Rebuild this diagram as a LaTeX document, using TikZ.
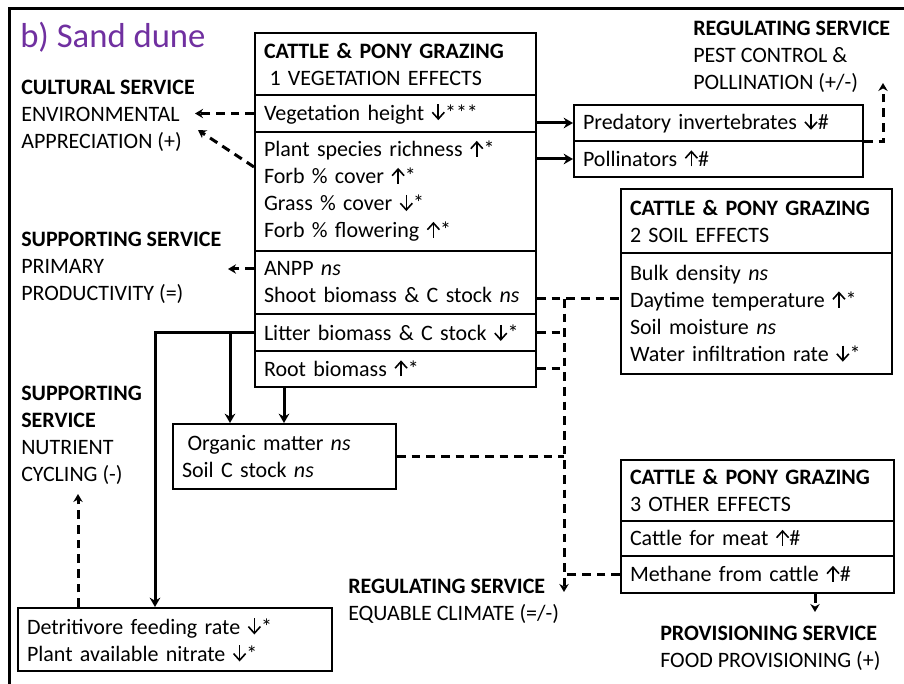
\documentclass[tikz,border=0pt]{standalone}
\usepackage{fontspec}
\setmainfont{Carlito}
\usetikzlibrary{arrows.meta}
\definecolor{titlepurple}{RGB}{112,48,160}
\newcommand\bodyfont{\fontsize{16.5}{20.25}\selectfont}
% open-headed trend arrows drawn inline with the text
\newcommand\upar{\tikz[baseline=0pt,x=1pt,y=1pt,line width=1.2pt,line cap=butt,line join=miter]{%
  \draw (5.5,0) -- (5.5,11.2); \draw (1,6.2) -- (5.5,11.2) -- (10,6.2);}}
\newcommand\dnar{\tikz[baseline=0pt,x=1pt,y=1pt,line width=1.2pt,line cap=butt,line join=miter]{%
  \draw (5.5,12) -- (5.5,0.8); \draw (1,5.8) -- (5.5,0.8) -- (10,5.8);}}

\tikzset{
  cell/.style 2 args={draw, line width=1.5pt, anchor=north west,
    inner xsep=6.75pt, inner ysep=0pt,
    minimum width=#1*0.75pt, minimum height=#2*0.75pt,
    /utils/exec={\pgfmathsetlengthmacro\cellw{#1*0.75pt-13.5pt}},
    text width=\cellw, align=left, font=\bodyfont},
  svc/.style={anchor=west, inner sep=0pt, align=left, font=\bodyfont},
  solidarrow/.style={line width=2.25pt, -{Stealth[length=7pt,width=8pt]}},
  dashline/.style={line width=2.25pt, dash pattern=on 6.5pt off 4.5pt},
  dasharrow/.style={dashline, -{Stealth[length=6pt,width=7pt]}}
}

\begin{document}
\begin{tikzpicture}[x=0.75pt,y=-0.75pt]
\useasboundingbox (0,0) rectangle (904,684);

% outer frame
\draw[line width=2.25pt] (9,684) -- (9,9) -- (904,9);

% title
\node[anchor=west, inner sep=0pt, font=\fontsize{26}{30}\selectfont, text=titlepurple] (title) at (20,37) {b) Sand dune};

% vegetation effects box
\node[cell={281}{62}] (vhead) at (254,32) {\textbf{CATTLE \& PONY GRAZING}\\\hspace{0.25em}1 VEGETATION EFFECTS};
\node[cell={281}{37}] (vheight) at (254,94) {Vegetation height \dnar***};
\node[cell={281}{119}] (vplant) at (254,131) {Plant species richness \upar*\\Forb \% cover \upar*\\Grass \% cover \dnar*\\Forb \% flowering \upar*};
\node[cell={281}{63}] (vanpp) at (254,250) {ANPP \textit{ns}\\Shoot biomass \& C stock \textit{ns}};
\node[cell={281}{37}] (vlitter) at (254,313) {Litter biomass \& C stock \dnar*};
\node[cell={281}{36}] (vroot) at (254,350) {Root biomass \upar*};

% invertebrates
\node[cell={289}{36}] (pred) at (573,104) {Predatory invertebrates \dnar\#};
\node[cell={289}{36}] (poll) at (573,140) {Pollinators \upar\#};

% soil effects box
\node[cell={271}{64}] (shead) at (620,188) {\textbf{CATTLE \& PONY GRAZING}\\2 SOIL EFFECTS};
\node[cell={271}{121}] (srows) at (620,252) {Bulk density \textit{ns}\\Daytime temperature \upar*\\Soil moisture \textit{ns}\\Water infiltration rate \dnar*};

% other effects box
\node[cell={273}{61}] (ohead) at (620,459) {\textbf{CATTLE \& PONY GRAZING}\\3 OTHER EFFECTS};
\node[cell={273}{35}] (ocattle) at (620,520) {Cattle for meat \upar\#};
\node[cell={273}{37}] (ometh) at (620,555) {Methane from cattle \upar\#};

% soil carbon and nutrient boxes
\node[cell={223}{65}] (org) at (172,423) {\hspace{0.25em}Organic matter \textit{ns}\\Soil C stock \textit{ns}};
\node[cell={314}{63}] (detr) at (17,607) {Detritivore feeding rate \dnar*\\Plant available nitrate \dnar*};

% ecosystem services
\node[svc] (cult) at (21,116) {\textbf{CULTURAL SERVICE}\\ENVIRONMENTAL\\APPRECIATION (+)};
\node[svc] (pest) at (693,57) {\textbf{REGULATING SERVICE}\\PEST CONTROL \&\\POLLINATION (+/-)};
\node[svc] (prim) at (21,268) {\textbf{SUPPORTING SERVICE}\\PRIMARY\\PRODUCTIVITY (=)};
\node[svc] (nutr) at (21,435.5) {\textbf{SUPPORTING}\\\textbf{SERVICE}\\NUTRIENT\\CYCLING (-)};
\node[svc] (clim) at (348,601) {\textbf{REGULATING SERVICE}\\EQUABLE CLIMATE (=/-)};
\node[svc] (food) at (660,648.5) {\textbf{PROVISIONING SERVICE}\\FOOD PROVISIONING (+)};

% connector ends and bends
\coordinate (culttipA) at (195,112);
\coordinate (culttipB) at (198,130);
\coordinate (primtip) at (228,269);
\coordinate (pesttip) at (883,83);
\coordinate (litbend) at (155,0);
\coordinate (orgdropA) at (230,0);
\coordinate (orgdropB) at (284,0);
\coordinate (trunktop) at (564,299);
\coordinate (climtip) at (564,592);
\coordinate (foodtip) at (815,612);
\coordinate (nutrtip) at (78,494);

% solid effects
\draw[solidarrow] (vheight.east |- pred.west) -- (pred.west);
\draw[solidarrow] (vplant.east |- poll.west) -- (poll.west);
\draw[solidarrow] (vlitter.west) -| (litbend |- detr.north);
\draw[solidarrow] (vlitter.west -| orgdropA) -- (orgdropA |- org.north);
\draw[solidarrow] (vroot.south -| orgdropB) -- (orgdropB |- org.north);

% dashed links to services
\draw[dasharrow] (vheight.west) -- (culttipA |- vheight.west);
\draw[dasharrow] ([yshift=18.4pt]vplant.west) -- (culttipB);
\draw[dasharrow] (vanpp.west |- primtip) -- (primtip);
\draw[dasharrow] (pred.south east) -- (pesttip |- pred.south east) -- (pesttip);
\draw[dasharrow] (detr.north -| nutrtip) -- (nutrtip);
\draw[dasharrow] (ometh.south -| foodtip) -- (foodtip);

% climate trunk
\draw[dashline] (vanpp.east |- trunktop) -- (srows.west |- trunktop);
\draw[dashline] (vlitter.east) -- (trunktop |- vlitter.east);
\draw[dashline] (vroot.east) -- (trunktop |- vroot.east);
\draw[dashline] (org.east) -- (trunktop |- org.east);
\draw[dashline] (ometh.west) -- (trunktop |- ometh.west);
\draw[dasharrow] (trunktop) -- (climtip);
\end{tikzpicture}
\end{document}
